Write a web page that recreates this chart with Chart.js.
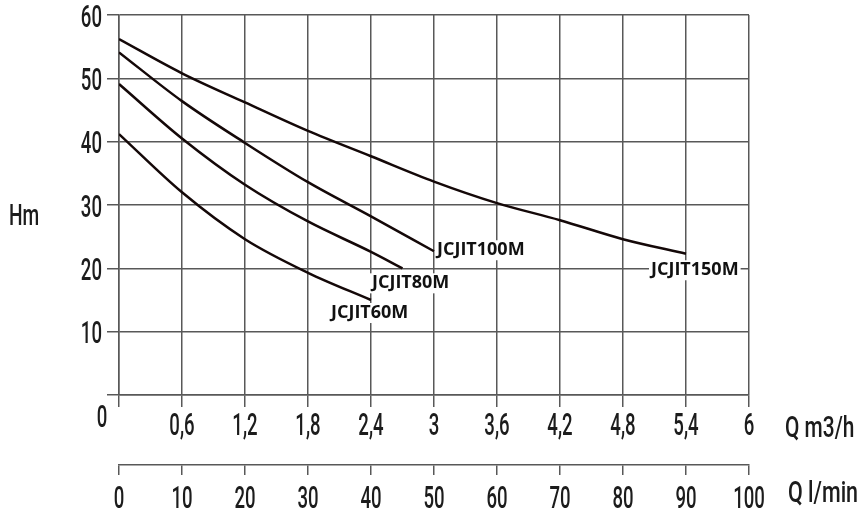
<!DOCTYPE html>
<html>
<head>
<meta charset="utf-8">
<script src="https://cdn.jsdelivr.net/npm/chart.js@4/dist/chart.umd.min.js"></script>
<style>
  body { margin: 0; background: #fff; }
  #wrap { width: 860px; height: 515px; position: relative; }
</style>
</head>
<body>
<div id="wrap"><canvas id="pumpChart"></canvas></div>
<script>
// 곡선 데이터 (Q m3/h, H m)
var flow = [0, 0.6, 1.2, 1.8, 2.4, 3.0, 3.6, 4.2, 4.8, 5.4];
var flow80 = [0, 0.6, 1.2, 1.8, 2.4, 2.7];
var head60 = [41.2, 32.0, 24.6, 19.3, 15.0];
var head80 = [49.1, 40.5, 33.2, 27.4, 22.6, 20.0];
var head100 = [54.1, 46.4, 39.8, 33.6, 28.2, 22.7];
var head150 = [56.2, 50.8, 46.2, 41.7, 37.7, 33.7, 30.3, 27.6, 24.6, 22.3];
var seriesNames = ['JCJIT60M', 'JCJIT80M', 'JCJIT100M', 'JCJIT150M'];

// 눈금
var headTicks = [0, 10, 20, 30, 40, 50, 60];
var m3hTicks = [0, 0.6, 1.2, 1.8, 2.4, 3, 3.6, 4.2, 4.8, 5.4, 6];
var m3hLabels = ['0', '0,6', '1,2', '1,8', '2,4', '3', '3,6', '4,2', '4,8', '5,4', '6'];
var lpmTicks = [0, 10, 20, 30, 40, 50, 60, 70, 80, 90, 100];

function toPoints(xs, ys) {
    return ys.map(function (y, i) { return { x: xs[i], y: y }; });
}

var gridColor = '#585858';
var textColor = '#1c1c1c';

// 좁은 글꼴 흉내
function condText(ctx, text, x, y, align, sx) {
    ctx.save();
    ctx.translate(x, y);
    ctx.scale(sx || 0.6, 1);
    ctx.textAlign = align;
    ctx.textBaseline = 'alphabetic';
    ctx.fillText(text, 0, 0);
    ctx.restore();
}

var labelPlugin = {
    id: 'pumpLabels',
    afterDraw: function (chart) {
        var ctx = chart.ctx;
        var xs = chart.scales.x, ys = chart.scales.y, x2 = chart.scales.x2;
        ctx.save();
        ctx.fillStyle = textColor;
        ctx.font = '500 31px Roboto, "Liberation Sans", sans-serif';

        headTicks.forEach(function (v) {
            if (v === 0) return;
            condText(ctx, String(v), 102, ys.getPixelForValue(v) + 11.5, 'right');
        });
        m3hTicks.forEach(function (v, i) {
            if (v === 0) return;
            condText(ctx, m3hLabels[i], xs.getPixelForValue(v), 435, 'center');
        });
        condText(ctx, '0', 102, 427, 'center');
        lpmTicks.forEach(function (v) {
            condText(ctx, String(v), x2.getPixelForValue(v), 508, 'center');
        });

        ctx.font = '500 29px Roboto, "Liberation Sans", sans-serif';
        condText(ctx, 'Q m3/h', 785, 437, 'left', 0.72);
        condText(ctx, 'Q l/min', 788, 502, 'left', 0.74);
        condText(ctx, 'Hm', 9, 225, 'left', 0.66);

        // 곡선 이름
        ctx.font = 'bold 18px "Open Sans", "Noto Sans", sans-serif';
        ctx.textAlign = 'left';
        ctx.textBaseline = 'alphabetic';
        var offs = [[-40, 18], [-30.5, 20], [3, 4], [-35, 21.5]];
        chart.data.datasets.forEach(function (ds, i) {
            var last = ds.data[ds.data.length - 1];
            var px = xs.getPixelForValue(last.x) + offs[i][0];
            var py = ys.getPixelForValue(last.y) + offs[i][1];
            var w = ctx.measureText(seriesNames[i]).width;
            ctx.fillStyle = '#fff';
            ctx.fillRect(px - 2, py - 15, w + 4, 20);
            ctx.fillStyle = '#111';
            ctx.fillText(seriesNames[i], px, py);
        });
        ctx.restore();
    }
};

function curve(name, data) {
    return {
        label: name,
        data: data,
        borderColor: '#140808',
        borderWidth: 2.5,
        pointRadius: 0,
        fill: false,
        cubicInterpolationMode: 'monotone'
    };
}

document.addEventListener('DOMContentLoaded', function () {
    var ctx = document.getElementById('pumpChart').getContext('2d');
    new Chart(ctx, {
        type: 'line',
        data: {
            datasets: [
                curve(seriesNames[0], toPoints(flow, head60)),
                curve(seriesNames[1], toPoints(flow80, head80)),
                curve(seriesNames[2], toPoints(flow, head100)),
                curve(seriesNames[3], toPoints(flow, head150))
            ]
        },
        options: {
            responsive: true,
            maintainAspectRatio: false,
            animation: false,
            layout: { padding: { top: 15, right: 111, left: 0, bottom: 0 } },
            plugins: { legend: { display: false }, tooltip: { enabled: false } },
            scales: {
                x: {
                    type: 'linear', position: 'bottom', weight: 0,
                    min: 0, max: 6,
                    afterBuildTicks: function (s) { s.ticks = m3hTicks.map(function (v) { return { value: v }; }); },
                    afterFit: function (s) { s.height = 70; },
                    ticks: { display: false },
                    grid: { color: gridColor, lineWidth: 1.5, tickLength: 12 },
                    border: { color: gridColor, width: 1.5 }
                },
                x2: {
                    type: 'linear', position: 'bottom', weight: 1,
                    min: 0, max: 100,
                    afterBuildTicks: function (s) { s.ticks = lpmTicks.map(function (v) { return { value: v }; }); },
                    afterFit: function (s) { s.height = 50; },
                    ticks: { display: false },
                    grid: { color: gridColor, lineWidth: 1.5, tickLength: 10, drawOnChartArea: false },
                    border: { color: gridColor, width: 1.5 }
                },
                y: {
                    type: 'linear', position: 'left',
                    min: 0, max: 60,
                    afterBuildTicks: function (s) { s.ticks = headTicks.map(function (v) { return { value: v }; }); },
                    afterFit: function (s) { s.width = 119; },
                    ticks: { display: false },
                    grid: { color: gridColor, lineWidth: 1.5, tickLength: 12 },
                    border: { color: gridColor, width: 1.5 }
                }
            }
        },
        plugins: [labelPlugin]
    });
});
</script>
</body>
</html>
